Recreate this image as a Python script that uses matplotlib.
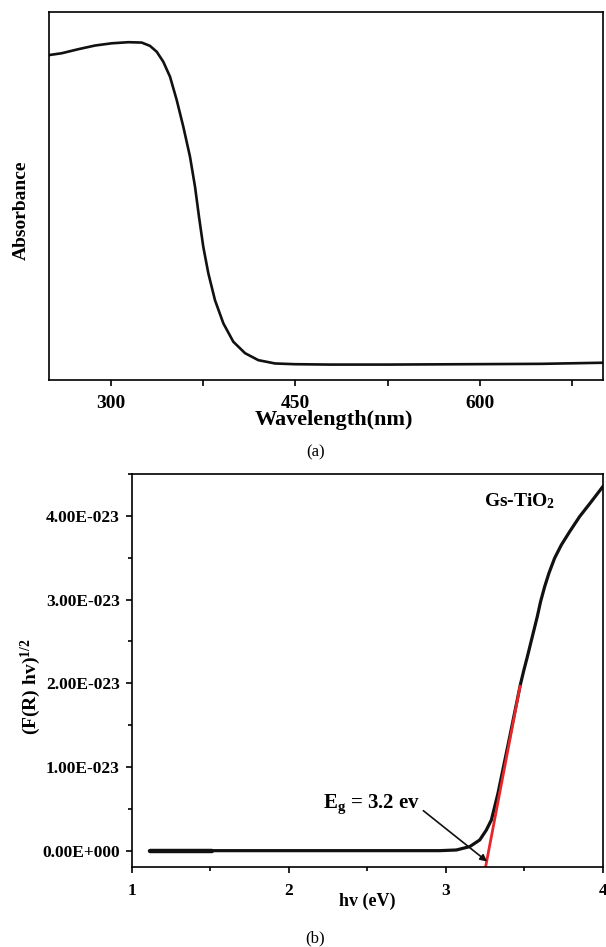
import matplotlib
matplotlib.use("Agg")
import matplotlib.pyplot as plt
from matplotlib.ticker import MultipleLocator, FuncFormatter
import numpy as np

plt.rcParams['font.family'] = ['Liberation Serif', 'DejaVu Serif']
plt.rcParams['mathtext.fontset'] = 'custom'
plt.rcParams['mathtext.rm'] = 'Liberation Serif:bold'
plt.rcParams['mathtext.bf'] = 'Liberation Serif:bold'
plt.rcParams['mathtext.it'] = 'Liberation Serif:italic:bold'

# (a) UV-Vis absorbance spectrum (arbitrary units)
wavelength_nm = [250, 260.3, 273.8, 287.4, 300.9, 314.4, 325.3, 332, 337.5,
                 342.8, 348.3, 353.7, 359.1, 364.5, 368.6, 371.8, 375.3,
                 379.4, 384.8, 391.6, 399.7, 409.2, 420, 433.6, 449.8, 478,
                 525, 590, 650, 700]
absorbance = [0.883, 0.888, 0.899, 0.909, 0.915, 0.918, 0.917, 0.908, 0.892,
              0.865, 0.824, 0.761, 0.688, 0.607, 0.525, 0.444, 0.362, 0.290,
              0.217, 0.154, 0.104, 0.073, 0.054, 0.045, 0.043, 0.042, 0.042,
              0.043, 0.044, 0.047]
wl_ticks = [300, 450, 600]

# (b) Tauc plot, (F(R) hv)^1/2 in units of 1e-23
hv_ev = [1.118, 1.51, 2.0, 2.5, 2.961, 3.067, 3.152, 3.216, 3.258, 3.290,
         3.311, 3.332, 3.400, 3.474, 3.497, 3.519, 3.540, 3.561, 3.582, 3.603,
         3.629, 3.656, 3.692, 3.735, 3.788, 3.851, 3.926, 3.999]
tauc_e23 = [0.0, 0.0, 0.0, 0.0, 0.0, 0.008, 0.048, 0.128, 0.247, 0.367,
            0.526, 0.686, 1.30, 1.98, 2.159, 2.318, 2.478, 2.637, 2.796, 2.975,
            3.154, 3.314, 3.493, 3.652, 3.811, 3.990, 4.170, 4.349]
# linear fit of the absorption edge
fit_hv = [3.253, 3.474]
fit_e23 = [-0.195, 1.98]
band_gap_label = 3.2

scale = 1e-23

fig = plt.figure(figsize=(6.06, 9.47), dpi=100)

# ---------------- panel (a) ----------------
axa = fig.add_axes([0.0809, 0.5987, 0.9142, 0.3886])
axa.plot(wavelength_nm, absorbance, color='#111111', lw=1.9,
         solid_joinstyle='round', solid_capstyle='round')
axa.set_xlim(250, 700)
axa.set_ylim(0, 1)
axa.set_yticks([])
axa.set_xticks(wl_ticks)
axa.xaxis.set_minor_locator(MultipleLocator(75))
axa.tick_params(axis='x', which='both', direction='out', length=4.5,
                width=1.2, pad=6, labelsize=14)
for lab in axa.get_xticklabels():
    lab.set_fontweight('bold')
for sp in axa.spines.values():
    sp.set_linewidth(1.2)
axa.set_xlabel('Wavelength(nm)', fontsize=16, fontweight='bold')
axa.xaxis.set_label_coords(0.514, -0.108)
axa.xaxis.label.set_va('center')
axa.set_ylabel('Absorbance', fontsize=14, fontweight='bold')
axa.yaxis.set_label_coords(-0.0505, 0.46)
axa.yaxis.label.set_va('center')
fig.text(0.52, 0.5227, '(a)', ha='center', va='center', fontsize=12)

# ---------------- panel (b) ----------------
axb = fig.add_axes([0.217, 0.0845, 0.778, 0.415])
hv = np.array(hv_ev)
tauc = np.array(tauc_e23) * scale
split = 2
axb.plot(hv[:split], tauc[:split], color='#111111', lw=3.2,
         solid_capstyle='round')
axb.plot(hv[split - 1:], tauc[split - 1:], color='#111111', lw=2.3,
         solid_capstyle='round', solid_joinstyle='round')
axb.plot(fit_hv, np.array(fit_e23) * scale, color='#e8262a', lw=2.0,
         solid_capstyle='butt')
axb.set_xlim(1, 4)
axb.set_ylim(-0.195 * scale, 4.5 * scale)
axb.xaxis.set_major_locator(MultipleLocator(1))
axb.xaxis.set_minor_locator(MultipleLocator(0.5))
axb.yaxis.set_major_locator(MultipleLocator(1 * scale))
axb.yaxis.set_minor_locator(MultipleLocator(0.5 * scale))


def sci_fmt(v, pos):
    mant, exp = f"{v:.2E}".split('E')
    e = int(exp)
    if abs(v) < 1e-40:
        mant, e = '0.00', 0
    sign = '-' if e < 0 else '+'
    return f"{mant}E{sign}{abs(e):03d}"


axb.yaxis.set_major_formatter(FuncFormatter(sci_fmt))
axb.tick_params(which='major', direction='out', length=4.5, width=1.2,
                labelsize=12.5)
axb.tick_params(which='minor', direction='out', length=3, width=1.2)
axb.tick_params(axis='x', pad=7)
axb.tick_params(axis='y', pad=4)
for lab in axb.get_xticklabels() + axb.get_yticklabels():
    lab.set_fontweight('bold')
for sp in axb.spines.values():
    sp.set_linewidth(1.2)

axb.set_xlabel('hv (eV)', fontsize=13, fontweight='bold')
axb.xaxis.set_label_coords(0.4995, -0.088)
axb.xaxis.label.set_va('center')
axb.set_ylabel(r'$\mathbf{(F(R)\ hv)^{1/2}}$', fontsize=14)
axb.yaxis.set_label_coords(-0.213, 0.46)
axb.yaxis.label.set_va('center')

axb.text(3.47, 4.18 * scale, r'Gs-TiO$_\mathbf{2}$', ha='center',
         va='center', fontsize=14, fontweight='bold')
axb.annotate(r'E$_\mathbf{g}$ = ' + f'{band_gap_label} ev',
             xy=(3.263, -0.13 * scale), xytext=(2.53, 0.56 * scale),
             ha='center', va='center', fontsize=15, fontweight='bold',
             arrowprops=dict(arrowstyle='-|>', color='#111111', lw=1.2,
                             mutation_scale=10, shrinkA=0, shrinkB=0,
                             relpos=(1.0, 0.3)))

fig.text(0.52, 0.0095, '(b)', ha='center', va='center', fontsize=12)

fig.savefig('out.png', dpi=100, facecolor='white')
